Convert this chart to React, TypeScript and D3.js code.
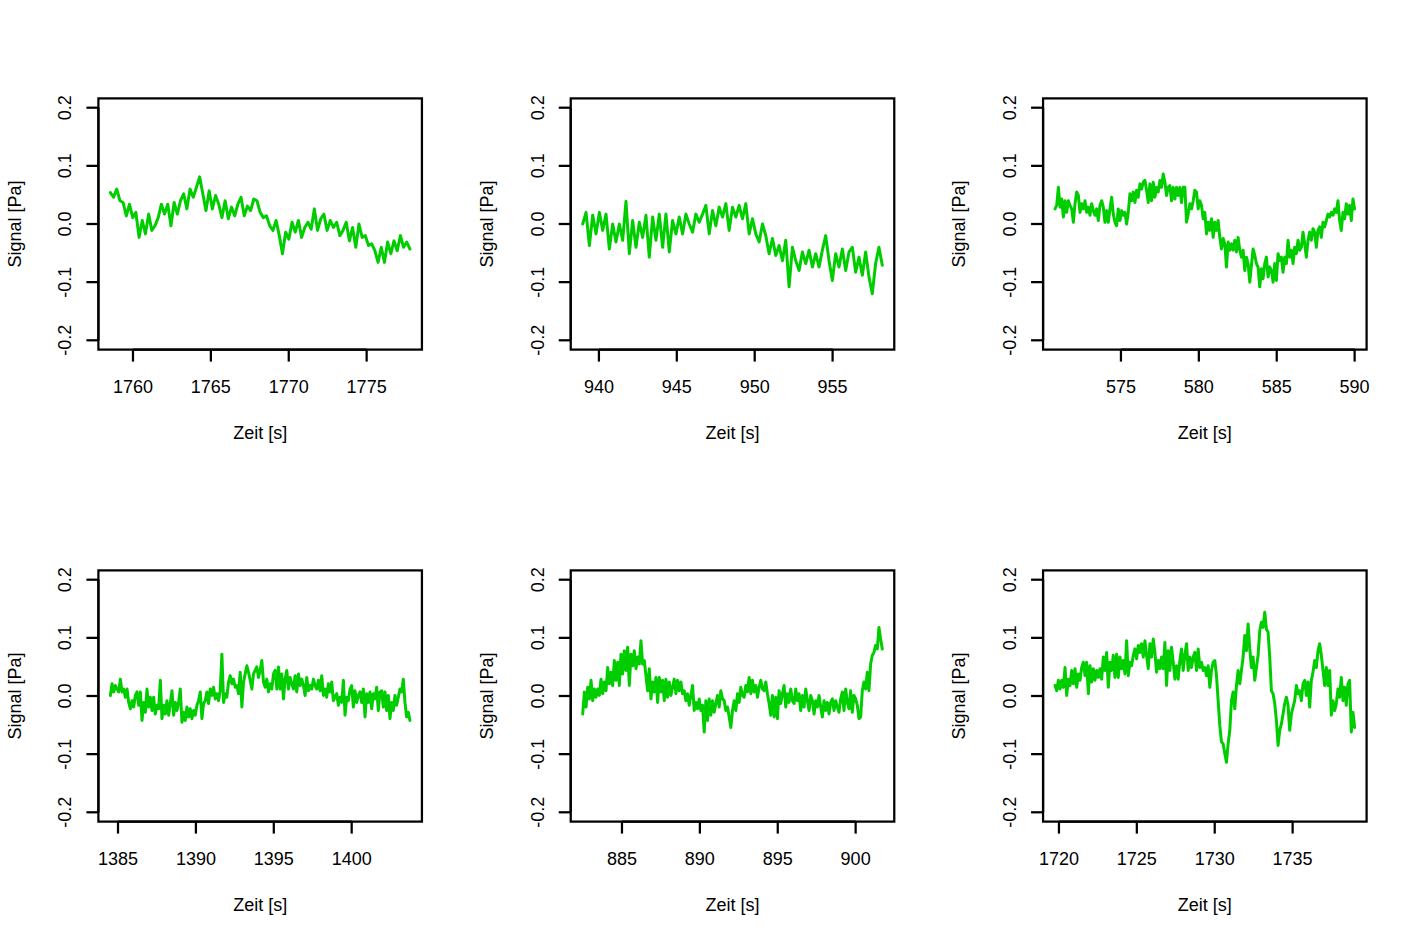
import React from 'react';
import * as d3 from 'd3';

const W = 1417;
const H = 944;

const yTicks = [-0.2, -0.1, 0, 0.1, 0.2];
const yTickLabels = ['-0.2', '-0.1', '0.0', '0.1', '0.2'];
const yLimits = [-0.2, 0.2];
const xTitle = 'Zeit [s]';
const yTitle = 'Signal [Pa]';

const p1Range = [1758.55, 1777.78];
const p1Ticks = [1760, 1765, 1770, 1775];
const p1Signal = [0.054,0.046,0.060,0.040,0.037,0.014,0.034,0.011,0.020,-0.023,
0.006,-0.017,0.017,-0.011,-0.003,0.011,0.034,0.017,0.034,-0.003,
0.037,0.017,0.040,0.052,0.026,0.060,0.046,0.063,0.081,0.052,
0.023,0.057,0.026,0.049,0.034,0.011,0.040,0.009,0.029,0.014,
0.034,0.046,0.014,0.031,0.023,0.043,0.040,0.020,0.011,0.014,
-0.003,-0.011,0.006,-0.020,-0.051,-0.014,-0.026,0.003,-0.014,0.006,
-0.023,-0.006,0.003,-0.009,0.026,-0.011,0.009,0.017,-0.011,0.006,
-0.006,0.003,-0.020,-0.011,0.003,-0.029,-0.006,-0.040,0.000,-0.023,
-0.020,-0.037,-0.034,-0.046,-0.066,-0.040,-0.066,-0.031,-0.051,-0.029,
-0.046,-0.020,-0.040,-0.031,-0.043];

const p2Range = [938.96, 958.19];
const p2Ticks = [940, 945, 950, 955];
const p2Signal = [0.000,0.020,-0.037,0.015,-0.017,0.020,-0.011,0.017,-0.043,0.000,
-0.031,0.000,-0.028,0.039,-0.051,0.006,-0.040,0.003,-0.023,0.015,
-0.057,0.012,-0.028,0.017,-0.040,0.017,-0.048,0.006,-0.017,0.012,
-0.017,0.017,0.000,-0.014,0.017,0.003,0.017,0.032,-0.017,0.023,
-0.003,0.029,0.012,0.035,-0.011,0.029,0.012,0.032,0.009,0.035,
-0.017,0.009,-0.017,-0.031,0.000,-0.020,-0.051,-0.025,-0.054,-0.037,
-0.063,-0.028,-0.108,-0.040,-0.063,-0.080,-0.048,-0.068,-0.045,-0.074,
-0.051,-0.074,-0.045,-0.020,-0.063,-0.097,-0.051,-0.074,-0.043,-0.080,
-0.048,-0.040,-0.083,-0.057,-0.088,-0.048,-0.091,-0.120,-0.068,-0.040,
-0.071];

const p3Range = [570.77, 590.0];
const p3Ticks = [575, 580, 585, 590];
const p3Signal = [0.026,0.032,0.063,0.029,0.043,0.012,0.040,0.020,0.040,0.032,
0.026,0.003,0.035,0.055,0.049,0.020,0.035,0.026,0.040,0.020,
0.029,0.015,0.035,0.023,0.015,0.026,0.006,0.032,0.040,0.029,
0.003,0.023,0.003,0.026,0.046,0.017,0.003,-0.003,0.026,0.006,
0.023,0.015,0.020,0.000,0.020,0.052,0.040,0.055,0.037,0.058,
0.046,0.069,0.060,0.072,0.075,0.058,0.037,0.069,0.040,0.072,
0.046,0.063,0.055,0.075,0.063,0.086,0.072,0.049,0.063,0.066,
0.040,0.063,0.043,0.063,0.049,0.063,0.037,0.063,0.063,0.003,
0.017,0.035,0.026,0.040,0.058,0.055,0.026,0.040,0.032,0.009,
0.020,-0.017,0.003,-0.011,0.009,-0.023,0.003,-0.011,0.006,-0.023,
-0.043,-0.025,-0.034,-0.074,-0.031,-0.045,-0.034,-0.045,-0.028,-0.048,
-0.023,-0.045,-0.057,-0.045,-0.080,-0.057,-0.068,-0.100,-0.071,-0.043,
-0.054,-0.068,-0.074,-0.108,-0.077,-0.094,-0.068,-0.057,-0.091,-0.074,
-0.080,-0.100,-0.068,-0.097,-0.051,-0.063,-0.057,-0.083,-0.057,-0.068,
-0.028,-0.057,-0.045,-0.068,-0.040,-0.051,-0.028,-0.045,-0.040,-0.014,
-0.034,-0.057,-0.028,-0.014,-0.028,-0.008,-0.014,-0.040,-0.011,-0.005,
-0.023,0.003,-0.005,0.006,0.017,0.012,0.020,0.015,0.026,0.020,
0.040,0.006,-0.011,0.020,0.009,0.035,0.017,0.032,0.006,0.043,
0.026];

const p4Range = [1384.51, 1403.74];
const p4Ticks = [1385, 1390, 1395, 1400];
const p4Signal = [0.001,0.021,0.007,0.018,0.012,0.007,0.029,0.007,0.012,-0.002,
0.012,-0.011,-0.022,-0.008,-0.019,0.001,0.007,-0.016,0.007,-0.042,
-0.011,-0.028,0.012,-0.019,-0.002,-0.025,-0.002,-0.031,-0.016,-0.022,
0.027,-0.039,-0.016,-0.031,-0.008,-0.033,-0.013,0.009,-0.033,-0.011,
-0.025,-0.011,0.012,-0.045,-0.028,-0.042,-0.019,-0.036,-0.022,-0.039,
-0.025,-0.033,-0.016,-0.008,0.007,-0.039,-0.013,-0.008,0.007,-0.013,
0.012,0.001,0.015,-0.005,0.004,-0.008,0.009,0.072,-0.011,0.004,
-0.002,0.024,0.035,0.021,0.029,0.015,0.018,0.004,0.041,-0.019,
0.024,0.038,0.052,0.041,0.027,0.012,0.038,0.044,0.050,0.032,
0.044,0.061,0.024,0.015,0.029,0.007,0.021,0.012,0.038,0.044,
0.012,0.050,0.012,0.038,-0.005,0.029,0.044,0.012,0.032,0.021,
0.012,0.035,0.007,0.038,0.018,0.029,0.018,0.001,0.032,0.009,
0.018,0.012,0.029,0.018,0.012,0.027,0.009,0.035,0.001,0.012,
-0.002,0.021,0.007,0.024,-0.008,-0.002,0.004,-0.016,-0.002,-0.011,
0.027,-0.033,-0.002,-0.008,0.012,0.018,-0.019,0.009,-0.011,0.001,
0.007,-0.011,0.012,-0.036,0.004,-0.011,0.007,-0.022,0.004,-0.005,
0.015,-0.025,0.007,0.009,-0.019,0.007,-0.025,0.001,-0.039,-0.011,
-0.025,0.001,-0.016,-0.002,0.012,0.007,0.029,-0.011,-0.036,-0.028,
-0.042];

const p5Range = [882.48, 901.71];
const p5Ticks = [885, 890, 895, 900];
const p5Signal = [-0.031,0.007,-0.019,0.015,-0.005,0.027,-0.008,0.012,-0.002,0.012,
0.001,0.029,0.004,0.024,0.009,0.049,0.021,0.041,0.018,0.061,
0.027,0.058,0.018,0.072,0.038,0.078,0.044,0.084,0.018,0.072,
0.052,0.078,0.047,0.067,0.055,0.095,0.055,0.061,0.035,0.009,
0.047,-0.005,0.024,0.007,0.032,-0.011,0.032,0.007,0.027,-0.008,
0.029,-0.002,0.024,0.001,0.015,0.029,0.004,0.027,0.009,0.024,
0.004,0.009,-0.008,0.004,-0.016,0.001,0.018,-0.025,-0.011,-0.022,
-0.005,-0.025,-0.016,-0.062,-0.008,-0.042,-0.005,-0.033,-0.008,-0.028,
-0.013,0.001,-0.019,0.009,-0.005,-0.008,-0.025,-0.019,-0.036,-0.054,
-0.025,-0.008,-0.025,0.004,-0.011,0.015,0.001,-0.002,0.018,0.007,
0.032,0.004,0.027,0.007,0.018,-0.002,0.015,0.027,0.012,0.009,
0.024,0.004,-0.013,-0.033,0.001,-0.036,-0.002,-0.039,0.009,-0.013,
0.004,0.018,-0.019,0.004,-0.011,0.012,-0.008,-0.013,0.012,-0.008,
0.004,-0.025,0.001,-0.019,0.012,-0.008,-0.025,0.001,-0.008,-0.031,
-0.008,-0.019,0.001,-0.019,-0.036,-0.008,-0.025,-0.011,-0.031,-0.011,
-0.005,-0.025,-0.008,-0.019,-0.028,-0.005,0.007,-0.025,0.012,-0.011,
-0.022,0.009,-0.028,0.001,-0.005,-0.016,-0.039,-0.036,0.009,0.024,
0.012,0.041,0.009,0.055,0.070,0.075,0.087,0.081,0.118,0.098,
0.081];

const p6Range = [1719.75, 1738.98];
const p6Ticks = [1720, 1725, 1730, 1735];
const p6Signal = [0.018,0.009,0.027,0.012,0.027,0.015,0.049,0.001,0.029,0.018,
0.044,0.021,0.047,0.015,0.038,0.027,0.049,0.058,0.035,0.058,
0.004,0.052,0.024,0.047,0.027,0.044,0.032,0.047,0.029,0.067,
0.044,0.075,0.015,0.058,0.044,0.070,0.032,0.072,0.032,0.067,
0.047,0.061,0.038,0.095,0.035,0.058,0.052,0.070,0.081,0.064,
0.087,0.075,0.090,0.067,0.095,0.070,0.047,0.090,0.067,0.098,
0.075,0.041,0.061,0.047,0.067,0.047,0.092,0.018,0.078,0.044,
0.084,0.058,0.029,0.052,0.029,0.061,0.081,0.044,0.070,0.090,
0.044,0.067,0.049,0.067,0.075,0.044,0.081,0.049,0.058,0.044,
0.049,0.035,0.052,0.015,0.044,0.058,0.061,0.035,-0.008,-0.051,
-0.079,-0.082,-0.099,-0.114,-0.082,-0.059,-0.008,0.007,-0.022,0.018,
0.044,0.021,0.044,0.067,0.104,0.078,0.124,0.081,0.049,0.067,
0.027,0.049,0.070,0.112,0.127,0.118,0.144,0.115,0.110,0.067,
0.009,0.004,-0.013,-0.042,-0.085,-0.059,-0.048,-0.031,-0.013,-0.002,
-0.016,-0.059,-0.031,-0.019,-0.008,0.018,0.004,0.009,-0.008,0.021,
0.027,0.001,0.024,-0.019,0.027,0.041,0.061,0.049,0.078,0.090,
0.070,0.044,0.018,0.049,0.018,0.044,-0.033,-0.008,-0.025,-0.013,
0.012,-0.002,0.032,-0.008,0.015,-0.016,0.021,0.027,-0.062,-0.028,
-0.054];

const panels = [
  { range: p1Range, ticks: p1Ticks, signal: p1Signal },
  { range: p2Range, ticks: p2Ticks, signal: p2Signal },
  { range: p3Range, ticks: p3Ticks, signal: p3Signal },
  { range: p4Range, ticks: p4Ticks, signal: p4Signal },
  { range: p5Range, ticks: p5Ticks, signal: p5Signal },
  { range: p6Range, ticks: p6Ticks, signal: p6Signal },
];

const FONT = "'Liberation Sans', Arial, Helvetica, sans-serif";
const AXIS_W = 2.25;
const TICK = 12;

function Panel({ idx, p }: { idx: number; p: { range: number[]; ticks: number[]; signal: number[] } }) {
  const figW = W / 3;
  const figH = H / 2;
  const col = idx % 3;
  const row = Math.floor(idx / 3);
  const left = col * figW + 98.4;
  const right = (col + 1) * figW - 50.4;
  const top = row * figH + 98.4;
  const bottom = (row + 1) * figH - 122.4;

  const [t0, t1] = p.range;
  const xpad = (t1 - t0) * 0.04;
  const x = d3.scaleLinear().domain([t0 - xpad, t1 + xpad]).range([left, right]);
  const ypad = (yLimits[1] - yLimits[0]) * 0.04;
  const y = d3.scaleLinear().domain([yLimits[0] - ypad, yLimits[1] + ypad]).range([bottom, top]);

  const n = p.signal.length;
  const times = p.signal.map((_, i) => t0 + (i * (t1 - t0)) / (n - 1));
  const line = d3
    .line<number>()
    .x((_, i) => x(times[i]))
    .y((v) => y(v));

  const xFirst = x(p.ticks[0]);
  const xLast = x(p.ticks[p.ticks.length - 1]);
  const yFirst = y(yTicks[0]);
  const yLast = y(yTicks[yTicks.length - 1]);
  const cy = (top + bottom) / 2;
  const cx = (left + right) / 2;

  return (
    <g>
      <path d={line(p.signal) || ''} fill="none" stroke="#00CD00" strokeWidth={3} strokeLinejoin="round" strokeLinecap="round" />
      <rect x={left} y={top} width={right - left} height={bottom - top} fill="none" stroke="#000" strokeWidth={AXIS_W} />
      {/* x axis */}
      <line x1={xFirst} x2={xLast} y1={bottom} y2={bottom} stroke="#000" strokeWidth={AXIS_W} />
      {p.ticks.map((t) => (
        <g key={'xt' + t}>
          <line x1={x(t)} x2={x(t)} y1={bottom} y2={bottom + TICK} stroke="#000" strokeWidth={AXIS_W} />
          <text x={x(t)} y={bottom + 43} textAnchor="middle" fontSize={18} fontFamily={FONT} fill="#000">
            {String(t)}
          </text>
        </g>
      ))}
      {/* y axis */}
      <line x1={left} x2={left} y1={yFirst} y2={yLast} stroke="#000" strokeWidth={AXIS_W} />
      {yTicks.map((v, i) => (
        <g key={'yt' + i}>
          <line x1={left - TICK} x2={left} y1={y(v)} y2={y(v)} stroke="#000" strokeWidth={AXIS_W} />
          <text
            transform={`translate(${left - 27},${y(v)}) rotate(-90)`}
            textAnchor="middle"
            fontSize={18}
            fontFamily={FONT}
            fill="#000"
          >
            {yTickLabels[i]}
          </text>
        </g>
      ))}
      <text x={cx} y={bottom + 89.6} textAnchor="middle" fontSize={18} fontFamily={FONT} fill="#000">
        {xTitle}
      </text>
      <text
        transform={`translate(${left - 77.7},${cy}) rotate(-90)`}
        textAnchor="middle"
        fontSize={18}
        fontFamily={FONT}
        fill="#000"
      >
        {yTitle}
      </text>
    </g>
  );
}

export default function App() {
  return (
    <svg
      width={W}
      height={H}
      viewBox={`0 0 ${W} ${H}`}
      style={{ position: 'absolute', left: 0, top: 0, background: '#fff', display: 'block' }}
    >
      <rect x={0} y={0} width={W} height={H} fill="#fff" />
      {panels.map((p, i) => (
        <Panel key={i} idx={i} p={p} />
      ))}
    </svg>
  );
}
